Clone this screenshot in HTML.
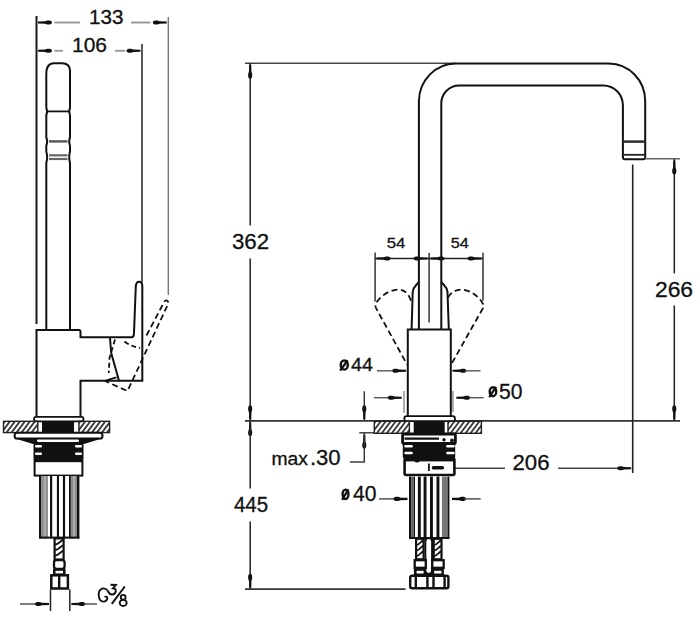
<!DOCTYPE html>
<html><head><meta charset="utf-8"><style>
html,body{margin:0;padding:0;background:#fff;}
svg{display:block;}
text{font-family:"Liberation Sans",sans-serif;fill:#111;stroke:#111;stroke-width:0.3px;}
</style></head><body>
<svg width="700" height="628" viewBox="0 0 700 628">
<rect width="700" height="628" fill="#fff"/>
<line x1="36.5" y1="16" x2="36.5" y2="324" stroke="#1a1a1a" stroke-width="2" />
<line x1="168.3" y1="17" x2="168.3" y2="295" stroke="#777" stroke-width="1.4" />
<line x1="142" y1="44" x2="142" y2="282" stroke="#222" stroke-width="1.5" />
<path d="M38.00,23.55 L45.00,23.75 C47.00,24.90 52.00,25.10 52.00,22.50 C52.00,19.90 47.00,20.10 45.00,21.25 L38.00,21.45 Z" fill="#111"/>
<line x1="54.5" y1="22.5" x2="80" y2="22.5" stroke="#999" stroke-width="1.9" />
<text x="89.04" y="24.29" font-size="19.84" textLength="34.40" lengthAdjust="spacingAndGlyphs" >133</text>
<line x1="131" y1="22.5" x2="150.5" y2="22.5" stroke="#999" stroke-width="1.9" />
<path d="M166.80,21.45 L159.80,21.25 C157.80,20.10 152.80,19.90 152.80,22.50 C152.80,25.10 157.80,24.90 159.80,23.75 L166.80,23.55 Z" fill="#111"/>
<path d="M38.00,51.85 L45.00,52.05 C47.00,53.20 52.00,53.40 52.00,50.80 C52.00,48.20 47.00,48.40 45.00,49.55 L38.00,49.75 Z" fill="#111"/>
<line x1="54.5" y1="50.8" x2="63" y2="50.8" stroke="#999" stroke-width="1.9" />
<text x="72.01" y="51.78" font-size="19.77" textLength="34.98" lengthAdjust="spacingAndGlyphs" >106</text>
<line x1="115" y1="50.8" x2="125" y2="50.8" stroke="#999" stroke-width="1.9" />
<path d="M140.50,49.75 L133.50,49.55 C131.50,48.40 126.50,48.20 126.50,50.80 C126.50,53.40 131.50,53.20 133.50,52.05 L140.50,51.85 Z" fill="#111"/>
<path d="M46.3,329.5 V163 Q48,157.2 46.3,151.5 V145.5 Q48,141.4 46.3,137.5 V115 Q47.8,111.4 46.3,108 V74 Q46.3,63.2 54,63.2 H62 Q70,63.2 70,71 V108 Q68.6,111.4 70,115 V137.5 Q68.4,141.4 70,145.5 V151.5 Q68.4,157.2 70,163 V329.5" stroke="#111" stroke-width="2" fill="none" />
<line x1="47.5" y1="111.4" x2="69" y2="111.4" stroke="#111" stroke-width="1.8" />
<line x1="49" y1="141.4" x2="67.5" y2="141.4" stroke="#555" stroke-width="2.4" />
<line x1="49" y1="155.3" x2="67.5" y2="155.3" stroke="#666" stroke-width="2.2" />
<line x1="49" y1="159" x2="67.5" y2="159" stroke="#666" stroke-width="2.2" />
<path d="M36.5,416 V330 H79 Q80.5,330 80.5,332 V337.3 H132 Q134,337 134,333 L135.8,286 Q136.5,281.8 139,281.8 Q142.3,281.8 142.3,286 V380.7 H80.5 V416" stroke="#111" stroke-width="2" fill="none" />
<path d="M110,338 L111.2,353 L117.4,375 L119,380.7" stroke="#111" stroke-width="2" fill="none" />
<path d="M106,380.5 Q111,378.5 116.5,377.3" stroke="#111" stroke-width="1.8" fill="none" />
<path d="M115,339.5 L109.5,358 L108.8,373" stroke="#111" stroke-width="1.8" fill="none" stroke-dasharray="5,3"/>
<path d="M124.5,341.5 Q131,346.5 140,348" stroke="#111" stroke-width="1.8" fill="none" stroke-dasharray="5,3"/>
<path d="M146.5,335.5 L164,302.2 C165.2,299.6 168.6,299.4 168.2,303.8 L127.5,391 L105,381" stroke="#111" stroke-width="1.8" fill="none" stroke-dasharray="6,3.5"/>
<path d="M36,416.8 H81.5 Q83.5,416.8 83.5,419 Q83.5,421.3 81.5,421.3 H36 Q34,421.3 34,419 Q34,416.8 36,416.8 Z" stroke="#111" stroke-width="1.8" fill="#fff" />
<clipPath id="c25"><rect x="3.5" y="421.3" width="34.3" height="11.300000000000011"/></clipPath>
<path d="M-3.5,432.6 L5.0,421.3 M1.5,432.6 L10.0,421.3 M6.5,432.6 L15.0,421.3 M11.5,432.6 L20.0,421.3 M16.5,432.6 L25.0,421.3 M21.5,432.6 L30.0,421.3 M26.5,432.6 L35.0,421.3 M31.5,432.6 L40.0,421.3 M36.5,432.6 L45.0,421.3 M41.5,432.6 L50.0,421.3" stroke="#3a3a3a" stroke-width="1.9" clip-path="url(#c25)"/>
<rect x="3.5" y="421.3" width="34.3" height="11.300000000000011" fill="none" stroke="#222" stroke-width="1.4"/>
<clipPath id="c28"><rect x="78.9" y="421.3" width="30.69999999999999" height="11.300000000000011"/></clipPath>
<path d="M71.9,432.6 L80.4,421.3 M76.9,432.6 L85.4,421.3 M81.9,432.6 L90.4,421.3 M86.9,432.6 L95.4,421.3 M91.9,432.6 L100.4,421.3 M96.9,432.6 L105.4,421.3 M101.9,432.6 L110.4,421.3 M106.9,432.6 L115.4,421.3 M111.9,432.6 L120.4,421.3 M116.9,432.6 L125.4,421.3" stroke="#3a3a3a" stroke-width="1.9" clip-path="url(#c28)"/>
<rect x="78.9" y="421.3" width="30.69999999999999" height="11.300000000000011" fill="none" stroke="#222" stroke-width="1.4"/>
<rect x="42" y="421.3" width="32" height="11.3" fill="#111"/>
<path d="M17,432.8 H100 Q102.5,432.8 102.5,435.7 Q102.5,438.6 100,438.6 H17 Q14.6,438.6 14.6,435.7 Q14.6,432.8 17,432.8 Z" stroke="#111" stroke-width="2" fill="#fff" />
<path d="M15,438.5 L102,438.5 L84,444 L33,444 Z" fill="#111"/>
<rect x="37" y="439.6" width="42" height="2.4" rx="1.2" fill="#fff"/>
<rect x="33.5" y="443.3" width="50" height="16" rx="2" fill="#111"/>
<rect x="35" y="445.0" width="7" height="2.5" rx="1.2" fill="#fff"/>
<rect x="75" y="445.0" width="7" height="2.5" rx="1.2" fill="#fff"/>
<rect x="35" y="452.4" width="7" height="2.5" rx="1.2" fill="#fff"/>
<rect x="75" y="452.4" width="7" height="2.5" rx="1.2" fill="#fff"/>
<rect x="34.6" y="459" width="47.8" height="16.6" fill="#fff" stroke="#111" stroke-width="2"/>
<rect x="34.6" y="459" width="47.8" height="3.2" fill="#111"/>
<rect x="39" y="476" width="40.4" height="62.4" fill="#fff"/>
<rect x="39" y="476" width="2.2" height="62.4" fill="#111"/>
<rect x="41.1" y="476" width="6.8" height="62.4" fill="#8a8a8a"/>
<rect x="43.5" y="476" width="2.5" height="62.4" fill="#aaa"/>
<rect x="50" y="476" width="2.2" height="62.4" fill="#111"/>
<rect x="56.9" y="476" width="2.1" height="62.4" fill="#111"/>
<rect x="62.9" y="476" width="2.2" height="62.4" fill="#111"/>
<rect x="69" y="476" width="1.9" height="62.4" fill="#111"/>
<rect x="70.8" y="476" width="6.1" height="62.4" fill="#8a8a8a"/>
<rect x="73" y="476" width="2.2" height="62.4" fill="#aaa"/>
<rect x="76.9" y="476" width="2.5" height="62.4" fill="#111"/>
<rect x="39" y="536.6" width="40.4" height="2" fill="#111"/>
<rect x="54.6" y="538.4" width="8.999999999999993" height="21.100000000000023" fill="#fff" stroke="#111" stroke-width="2.2"/>
<path d="M55.1,544.4 C57.449999999999996,544.9 61.3,540.4 63.099999999999994,539.9 M55.1,549.9 C57.449999999999996,550.4 61.3,545.9 63.099999999999994,545.4 M55.1,555.4 C57.449999999999996,555.9 61.3,551.4 63.099999999999994,550.9 " stroke="#111" stroke-width="1.8" fill="none"/>
<rect x="54" y="560.2" width="10.6" height="8.6" rx="2.5" fill="#fff" stroke="#111" stroke-width="2.3"/>
<rect x="53" y="568.8" width="12.6" height="6.5" fill="#111"/>
<rect x="55.5" y="570.8" width="7.5" height="2.6" fill="#fff"/>
<rect x="51.3" y="575.3" width="16.6" height="13.2" fill="#fff" stroke="#111" stroke-width="2.5"/>
<rect x="58" y="575.3" width="2.4" height="13.2" fill="#111"/>
<line x1="50.5" y1="589.5" x2="50.5" y2="611" stroke="#222" stroke-width="1.5" />
<line x1="69.8" y1="589.5" x2="69.8" y2="611" stroke="#222" stroke-width="1.5" />
<line x1="20" y1="604" x2="36" y2="604" stroke="#444" stroke-width="1.4" />
<path d="M49.00,602.95 L42.00,602.75 C40.00,601.60 35.00,601.40 35.00,604.00 C35.00,606.60 40.00,606.40 42.00,605.25 L49.00,605.05 Z" fill="#111"/>
<path d="M71.30,605.05 L78.30,605.25 C80.30,606.40 85.30,606.60 85.30,604.00 C85.30,601.40 80.30,601.60 78.30,602.75 L71.30,602.95 Z" fill="#111"/>
<line x1="84" y1="604" x2="97" y2="604" stroke="#444" stroke-width="1.4" />
<path d="M107.5,590.5 C106,588.3 103,588 101,589.3 C99,590.8 98.5,593.5 98.8,596 C99.2,599.8 101.5,601.8 104,601.6 C106.3,601.3 107.6,599.5 107.3,597.7 C107,596.5 105.5,596.2 104.8,597.3" stroke="#111" stroke-width="1.9" fill="none" />
<path d="M107.5,590.5 C108.5,592.5 110,594.5 112,594.5 C114.5,594.5 116,592.5 115.8,590.5 C115.6,589 114.5,588.3 113,588.3 L115.8,585 L110.5,584.8" stroke="#111" stroke-width="1.9" fill="none" />
<path d="M111.8,603.8 L124.8,586.5" stroke="#111" stroke-width="2" fill="none" />
<ellipse cx="123.2" cy="597.3" rx="2.4" ry="2.4" fill="none" stroke="#111" stroke-width="1.8"/>
<ellipse cx="123.2" cy="602.9" rx="3.5" ry="3.1" fill="none" stroke="#111" stroke-width="1.8"/>
<line x1="245" y1="420.8" x2="680" y2="420.8" stroke="#333" stroke-width="1.8" />
<line x1="245" y1="63.2" x2="455" y2="63.2" stroke="#444" stroke-width="1.5" />
<line x1="250.2" y1="63" x2="250.2" y2="225.5" stroke="#222" stroke-width="1.5" />
<path d="M249.15,64.70 L248.95,71.70 C247.80,73.70 247.60,78.70 250.20,78.70 C252.80,78.70 252.60,73.70 251.45,71.70 L251.25,64.70 Z" fill="#111"/>
<text x="231.94" y="249.27" font-size="21.19" textLength="37.12" lengthAdjust="spacingAndGlyphs" >362</text>
<line x1="250.2" y1="258.5" x2="250.2" y2="421" stroke="#222" stroke-width="1.5" />
<path d="M251.25,419.30 L251.45,412.30 C252.60,410.30 252.80,405.30 250.20,405.30 C247.60,405.30 247.80,410.30 248.95,412.30 L249.15,419.30 Z" fill="#111"/>
<path d="M249.15,422.30 L248.95,429.30 C247.80,431.30 247.60,436.30 250.20,436.30 C252.80,436.30 252.60,431.30 251.45,429.30 L251.25,422.30 Z" fill="#111"/>
<line x1="250.2" y1="421" x2="250.2" y2="488.5" stroke="#222" stroke-width="1.5" />
<text x="233.94" y="512.27" font-size="21.19" textLength="34.11" lengthAdjust="spacingAndGlyphs" >445</text>
<line x1="250.2" y1="521.5" x2="250.2" y2="589" stroke="#222" stroke-width="1.5" />
<path d="M251.25,587.70 L251.45,580.70 C252.60,578.70 252.80,573.70 250.20,573.70 C247.60,573.70 247.80,578.70 248.95,580.70 L249.15,587.70 Z" fill="#111"/>
<line x1="245" y1="589.2" x2="405.5" y2="589.2" stroke="#333" stroke-width="1.8" />
<path d="M418.9,329.5 V101 A37,38 0 0 1 455.5,63.5 H608.7 A36.5,37.5 0 0 1 645.2,101 V157.2 Q645.2,159.2 643.2,159.2 H624.9 Q622.9,159.2 622.9,157.2 V105.4 A19.5,20 0 0 0 603.4,85.4 H459.2 A17.9,18 0 0 0 441.3,103.5 V329.5" stroke="#111" stroke-width="2" fill="none" />
<line x1="622.9" y1="141.6" x2="645.2" y2="141.6" stroke="#333" stroke-width="2.6" />
<line x1="622.9" y1="154.8" x2="645.2" y2="154.8" stroke="#222" stroke-width="1.8" />
<line x1="645" y1="158.8" x2="680" y2="158.8" stroke="#666" stroke-width="1.4" />
<line x1="674.3" y1="159" x2="674.3" y2="273.4" stroke="#222" stroke-width="1.5" />
<path d="M673.25,160.50 L673.05,167.50 C671.90,169.50 671.70,174.50 674.30,174.50 C676.90,174.50 676.70,169.50 675.55,167.50 L675.35,160.50 Z" fill="#111"/>
<text x="654.95" y="296.77" font-size="21.23" textLength="38.14" lengthAdjust="spacingAndGlyphs" >266</text>
<line x1="674.3" y1="305.4" x2="674.3" y2="421" stroke="#222" stroke-width="1.5" />
<path d="M675.35,419.30 L675.55,412.30 C676.70,410.30 676.90,405.30 674.30,405.30 C671.70,405.30 671.90,410.30 673.05,412.30 L673.25,419.30 Z" fill="#111"/>
<line x1="632.7" y1="164.4" x2="632.7" y2="473" stroke="#222" stroke-width="1.6" />
<line x1="455" y1="468.3" x2="505" y2="468.3" stroke="#444" stroke-width="1.5" />
<text x="512.47" y="469.77" font-size="21.25" textLength="37.04" lengthAdjust="spacingAndGlyphs" >206</text>
<line x1="558" y1="468.3" x2="620" y2="468.3" stroke="#444" stroke-width="1.5" />
<path d="M631.20,467.25 L624.20,467.05 C622.20,465.90 617.20,465.70 617.20,468.30 C617.20,470.90 622.20,470.70 624.20,469.55 L631.20,469.35 Z" fill="#111"/>
<line x1="429.1" y1="253" x2="429.1" y2="322.6" stroke="#333" stroke-width="1.5" />
<path d="M418.9,281.5 C417.5,285 413.2,286 412.7,292 L411.6,329.4" stroke="#111" stroke-width="2" fill="none" />
<path d="M441.3,281.5 C442.7,285 447,286 447.5,292 L448.8,329.4" stroke="#111" stroke-width="2" fill="none" />
<line x1="375.1" y1="252.6" x2="375.1" y2="301.5" stroke="#333" stroke-width="1.5" />
<line x1="483" y1="252.8" x2="483" y2="300.7" stroke="#333" stroke-width="1.5" />
<line x1="375" y1="258.5" x2="483" y2="258.5" stroke="#222" stroke-width="1.5" />
<path d="M376.60,259.55 L383.60,259.75 C385.60,260.90 390.60,261.10 390.60,258.50 C390.60,255.90 385.60,256.10 383.60,257.25 L376.60,257.45 Z" fill="#111"/>
<path d="M427.60,257.45 L420.60,257.25 C418.60,256.10 413.60,255.90 413.60,258.50 C413.60,261.10 418.60,260.90 420.60,259.75 L427.60,259.55 Z" fill="#111"/>
<path d="M430.60,259.55 L437.60,259.75 C439.60,260.90 444.60,261.10 444.60,258.50 C444.60,255.90 439.60,256.10 437.60,257.25 L430.60,257.45 Z" fill="#111"/>
<path d="M481.50,257.45 L474.50,257.25 C472.50,256.10 467.50,255.90 467.50,258.50 C467.50,261.10 472.50,260.90 474.50,259.75 L481.50,259.55 Z" fill="#111"/>
<text x="386.70" y="248.32" font-size="15.06" textLength="18.63" lengthAdjust="spacingAndGlyphs" >54</text>
<text x="450.70" y="248.32" font-size="15.06" textLength="18.07" lengthAdjust="spacingAndGlyphs" >54</text>
<path d="M411,300.7 C408,292 403,289.5 398.2,289.5 C388,290 380,297 376,303 Q374.5,306 376.5,309 L407,364.4" stroke="#111" stroke-width="1.8" fill="none" stroke-dasharray="6,3.5"/>
<path d="M448,297.5 C451,292 456,289.5 461.5,289.5 C471,290 479,297 482.5,303 Q484.5,306 482.5,309 L450.3,366" stroke="#111" stroke-width="1.8" fill="none" stroke-dasharray="6,3.5"/>
<path d="M407.8,416.5 V329.4 H450.8 V416.5" stroke="#111" stroke-width="2" fill="none" />
<ellipse cx="344.25" cy="365.05" rx="3.55" ry="4.55" fill="none" stroke="#111" stroke-width="2.4"/>
<path d="M340.20,370.50 L347.70,360.20" stroke="#111" stroke-width="2.3"/>
<text x="351.05" y="371.29" font-size="19.12" textLength="21.89" lengthAdjust="spacingAndGlyphs" >44</text>
<line x1="377" y1="370.8" x2="392" y2="370.8" stroke="#555" stroke-width="1.4" />
<path d="M406.10,369.75 L399.10,369.55 C397.10,368.40 392.10,368.20 392.10,370.80 C392.10,373.40 397.10,373.20 399.10,372.05 L406.10,371.85 Z" fill="#111"/>
<path d="M452.50,371.85 L459.50,372.05 C461.50,373.20 466.50,373.40 466.50,370.80 C466.50,368.20 461.50,368.40 459.50,369.55 L452.50,369.75 Z" fill="#111"/>
<line x1="465" y1="370.8" x2="480.5" y2="370.8" stroke="#555" stroke-width="1.4" />
<line x1="404" y1="391" x2="404" y2="413" stroke="#999" stroke-width="1.6" />
<line x1="452.9" y1="391" x2="452.9" y2="412" stroke="#999" stroke-width="1.6" />
<line x1="373.8" y1="397.7" x2="390" y2="397.7" stroke="#555" stroke-width="1.4" />
<path d="M401.70,396.65 L394.70,396.45 C392.70,395.30 387.70,395.10 387.70,397.70 C387.70,400.30 392.70,400.10 394.70,398.95 L401.70,398.75 Z" fill="#111"/>
<path d="M456.30,398.75 L463.30,398.95 C465.30,400.10 470.30,400.30 470.30,397.70 C470.30,395.10 465.30,395.30 463.30,396.45 L456.30,396.65 Z" fill="#111"/>
<line x1="469" y1="397.7" x2="483.7" y2="397.7" stroke="#555" stroke-width="1.4" />
<ellipse cx="492.95" cy="391.70" rx="3.25" ry="4.50" fill="none" stroke="#111" stroke-width="2.4"/>
<path d="M489.20,397.10 L496.10,386.90" stroke="#111" stroke-width="2.3"/>
<text x="499.00" y="398.78" font-size="21.23" textLength="23.48" lengthAdjust="spacingAndGlyphs" >50</text>
<line x1="364.3" y1="391.3" x2="364.3" y2="421" stroke="#333" stroke-width="1.4" />
<path d="M365.35,419.30 L365.55,412.30 C366.70,410.30 366.90,405.30 364.30,405.30 C361.70,405.30 361.90,410.30 363.05,412.30 L363.25,419.30 Z" fill="#111"/>
<line x1="359.3" y1="432.8" x2="374.3" y2="432.8" stroke="#333" stroke-width="1.4" />
<path d="M363.25,434.70 L363.05,441.70 C361.90,443.70 361.70,448.70 364.30,448.70 C366.90,448.70 366.70,443.70 365.55,441.70 L365.35,434.70 Z" fill="#111"/>
<line x1="364.3" y1="433" x2="364.3" y2="462" stroke="#333" stroke-width="1.4" />
<line x1="349.9" y1="462" x2="365" y2="462" stroke="#333" stroke-width="1.4" />
<text x="271.52" y="464.78" font-size="18.97" textLength="36.46" lengthAdjust="spacingAndGlyphs" >max</text>
<text x="309.93" y="464.76" font-size="22.64" textLength="30.66" lengthAdjust="spacingAndGlyphs" >.30</text>
<ellipse cx="345.55" cy="494.30" rx="2.95" ry="4.70" fill="none" stroke="#111" stroke-width="2.4"/>
<path d="M342.10,499.90 L348.40,489.30" stroke="#111" stroke-width="2.3"/>
<text x="353.00" y="501.28" font-size="21.23" textLength="23.49" lengthAdjust="spacingAndGlyphs" >40</text>
<line x1="379" y1="498.9" x2="395" y2="498.9" stroke="#444" stroke-width="1.4" />
<path d="M407.50,497.85 L400.50,497.65 C398.50,496.50 393.50,496.30 393.50,498.90 C393.50,501.50 398.50,501.30 400.50,500.15 L407.50,499.95 Z" fill="#111"/>
<path d="M452.00,499.95 L459.00,500.15 C461.00,501.30 466.00,501.50 466.00,498.90 C466.00,496.30 461.00,496.50 459.00,497.65 L452.00,497.85 Z" fill="#111"/>
<line x1="464" y1="498.9" x2="480.7" y2="498.9" stroke="#444" stroke-width="1.4" />
<path d="M406.5,416.2 H452.8 Q455,416.2 455,418.7 Q455,421.2 452.8,421.2 H406.5 Q404.3,421.2 404.3,418.7 Q404.3,416.2 406.5,416.2 Z" stroke="#111" stroke-width="1.8" fill="#fff" />
<clipPath id="c146"><rect x="374.3" y="421.3" width="35.099999999999966" height="12.0"/></clipPath>
<path d="M366.8,433.3 L375.8,421.3 M371.8,433.3 L380.8,421.3 M376.8,433.3 L385.8,421.3 M381.8,433.3 L390.8,421.3 M386.8,433.3 L395.8,421.3 M391.8,433.3 L400.8,421.3 M396.8,433.3 L405.8,421.3 M401.8,433.3 L410.8,421.3 M406.8,433.3 L415.8,421.3 M411.8,433.3 L420.8,421.3 M416.8,433.3 L425.8,421.3" stroke="#3a3a3a" stroke-width="1.9" clip-path="url(#c146)"/>
<rect x="374.3" y="421.3" width="35.099999999999966" height="12.0" fill="none" stroke="#222" stroke-width="1.4"/>
<clipPath id="c149"><rect x="448" y="421.3" width="33.39999999999998" height="12.0"/></clipPath>
<path d="M440.5,433.3 L449.5,421.3 M445.5,433.3 L454.5,421.3 M450.5,433.3 L459.5,421.3 M455.5,433.3 L464.5,421.3 M460.5,433.3 L469.5,421.3 M465.5,433.3 L474.5,421.3 M470.5,433.3 L479.5,421.3 M475.5,433.3 L484.5,421.3 M480.5,433.3 L489.5,421.3 M485.5,433.3 L494.5,421.3" stroke="#3a3a3a" stroke-width="1.9" clip-path="url(#c149)"/>
<rect x="448" y="421.3" width="33.39999999999998" height="12.0" fill="none" stroke="#222" stroke-width="1.4"/>
<rect x="413.7" y="421.3" width="31" height="12" fill="#111"/>
<rect x="402.8" y="443" width="52.4" height="15.5" rx="2" fill="#111"/>
<rect x="404.3" y="445.0" width="8.5" height="2.5" rx="1.2" fill="#fff"/>
<rect x="446.2" y="445.0" width="8.5" height="2.5" rx="1.2" fill="#fff"/>
<rect x="404.3" y="451.8" width="8.5" height="2.5" rx="1.2" fill="#fff"/>
<rect x="446.2" y="451.8" width="8.5" height="2.5" rx="1.2" fill="#fff"/>
<rect x="402.6" y="434" width="52.8" height="9.4" rx="1.5" fill="#fff" stroke="#111" stroke-width="2.8"/>
<path d="M404.5,438.6 H439" stroke="#111" stroke-width="2.4"/>
<circle cx="444" cy="439.8" r="1.7" fill="#111"/><circle cx="452" cy="440.5" r="1.9" fill="#111"/>
<rect x="404.6" y="458.4" width="49.8" height="16.6" rx="1.5" fill="#fff" stroke="#111" stroke-width="2.6"/>
<rect x="404.6" y="458.4" width="49.8" height="3" fill="#111"/>
<path d="M414,461 q3,3 6,0" fill="#111"/>
<rect x="431.8" y="466" width="12.2" height="3.6" rx="1.6" fill="#111"/>
<rect x="428" y="463.5" width="1.8" height="7.5" fill="#111"/>
<rect x="409" y="476.5" width="40.4" height="62.4" fill="#fff"/>
<rect x="409" y="476.5" width="2.1" height="62.4" fill="#111"/>
<rect x="411.1" y="476.5" width="2.9" height="62.4" fill="#666"/>
<rect x="414" y="476.5" width="1" height="62.4" fill="#111"/>
<rect x="417.9" y="476.5" width="2.9" height="62.4" fill="#111"/>
<rect x="423.6" y="476.5" width="2.9" height="62.4" fill="#111"/>
<rect x="430" y="476.5" width="2.9" height="62.4" fill="#111"/>
<rect x="436.5" y="476.5" width="2.9" height="62.4" fill="#111"/>
<rect x="441.9" y="476.5" width="5.7" height="62.4" fill="#777"/>
<rect x="447.6" y="476.5" width="1.8" height="62.4" fill="#111"/>
<rect x="409" y="537" width="40.4" height="2" fill="#111"/>
<rect x="424.5" y="538.8" width="8.5" height="37" fill="#111"/>
<rect x="426.3" y="539" width="4.8" height="34" rx="2.4" fill="#fff"/>
<rect x="416.1" y="538.8" width="7.5" height="20.5" fill="#fff" stroke="#111" stroke-width="2.2"/>
<path d="M416.6,544.8 C418.425,545.3 421.75,540.8 423.1,540.3 M416.6,550.3 C418.425,550.8 421.75,546.3 423.1,545.8 M416.6,555.8 C418.425,556.3 421.75,551.8 423.1,551.3 " stroke="#111" stroke-width="1.8" fill="none"/>
<rect x="414.70000000000005" y="560.2" width="11.1" height="7.6" fill="#fff" stroke="#111" stroke-width="2.3"/>
<rect x="413.90000000000003" y="568.2" width="12.1" height="7.4" fill="#111"/>
<rect x="416.6" y="570.8" width="7.0" height="2.7" fill="#fff"/>
<rect x="433.7" y="538.8" width="7.800000000000011" height="20.5" fill="#fff" stroke="#111" stroke-width="2.2"/>
<path d="M434.2,544.8 C436.13,545.3 439.56,540.8 441.0,540.3 M434.2,550.3 C436.13,550.8 439.56,546.3 441.0,545.8 M434.2,555.8 C436.13,556.3 439.56,551.8 441.0,551.3 " stroke="#111" stroke-width="1.8" fill="none"/>
<rect x="432.3" y="560.2" width="11.400000000000011" height="7.6" fill="#fff" stroke="#111" stroke-width="2.3"/>
<rect x="431.5" y="568.2" width="12.400000000000011" height="7.4" fill="#111"/>
<rect x="434.2" y="570.8" width="7.300000000000011" height="2.7" fill="#fff"/>
<rect x="410.2" y="575.8" width="38.2" height="12.4" rx="2" fill="#fff" stroke="#111" stroke-width="2.4"/>
<rect x="414.6" y="575.6" width="2.4" height="12.8" fill="#111"/>
<rect x="426.2" y="575.6" width="2.4" height="12.8" fill="#111"/>
<rect x="432.3" y="575.6" width="2.4" height="12.8" fill="#111"/>
<rect x="443.4" y="575.6" width="2.4" height="12.8" fill="#111"/>
</svg>
</body></html>
